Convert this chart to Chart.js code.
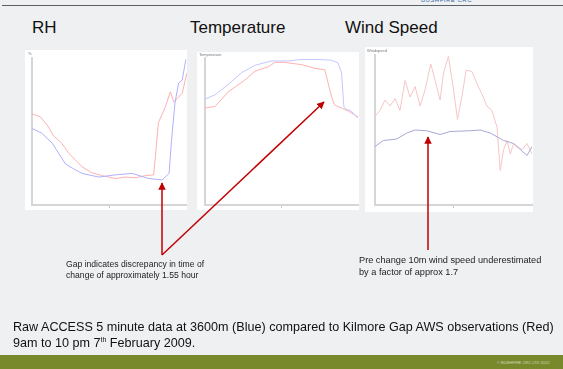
<!DOCTYPE html>
<html>
<head>
<meta charset="utf-8">
<script src="https://cdn.jsdelivr.net/npm/chart.js@4/dist/chart.umd.min.js"></script>
<style>
  html, body { margin: 0; padding: 0; }
  body {
    width: 563px; height: 369px; overflow: hidden; position: relative;
    background: #eff0f2; font-family: "Liberation Sans", Arial, sans-serif; color: #111;
  }
  .abs { position: absolute; }
  .title { font-size: 17px; line-height: 20px; white-space: nowrap; }
  .panel { background: #fff; }
  .note { font-size: 8.6px; line-height: 11px; white-space: nowrap; color: #222; }
  .tiny { font-size: 4px; color: #777; white-space: nowrap; }
</style>
</head>
<body>
<div class="abs" style="left:2px;top:5px;width:561px;height:1px;background:#5a5f66"></div>
<div class="abs" style="left:421px;top:-3px;font-size:6px;color:#3b6ea8;letter-spacing:0.5px">BUSHFIRE CRC</div>

<div class="abs title" style="left:32px;top:18px">RH</div>
<div class="abs title" style="left:190px;top:18px">Temperature</div>
<div class="abs title" style="left:345px;top:18px">Wind Speed</div>

<div class="abs panel" style="left:25px;top:50px;width:162px;height:160px"><canvas id="rhChart"></canvas></div>
<div class="abs panel" style="left:197px;top:52px;width:162px;height:158px"><canvas id="tempChart"></canvas></div>
<div class="abs panel" style="left:365px;top:47px;width:168px;height:165px"><canvas id="windChart"></canvas></div>

<div class="abs tiny" style="left:28px;top:51px">%</div>
<div class="abs tiny" style="left:199px;top:52px">Temperature</div>
<div class="abs tiny" style="left:367px;top:48px">Windspeed</div>

<svg class="abs" style="left:0;top:0" width="563" height="369">
  <defs>
    <marker id="head" viewBox="0 0 10 10" refX="9" refY="5" markerWidth="5" markerHeight="5" orient="auto">
      <path d="M0,0 L10,5 L0,10 z" fill="#c00000"/>
    </marker>
  </defs>
  <line x1="162" y1="255" x2="162" y2="183" stroke="#c00000" stroke-width="1.5" marker-end="url(#head)"/>
  <line x1="162" y1="255" x2="324" y2="102" stroke="#c00000" stroke-width="1.5" marker-end="url(#head)"/>
  <line x1="428" y1="250" x2="428" y2="137" stroke="#c00000" stroke-width="1.5" marker-end="url(#head)"/>
</svg>

<div class="abs note" style="left:66px;top:259px">Gap indicates discrepancy in time of<br>change of approximately 1.55 hour</div>
<div class="abs note" style="left:359px;top:254px;font-size:9.2px;line-height:12px">Pre change 10m wind speed underestimated<br>by a factor of approx 1.7</div>

<div class="abs" style="left:13px;top:319px;font-size:12.6px;line-height:16px;white-space:nowrap">
  Raw ACCESS 5 minute data at 3600m (Blue) compared to Kilmore Gap AWS observations (Red)<br>
  9am to 10 pm 7<sup style="font-size:7px;line-height:0">th</sup> February 2009.
</div>

<div class="abs" style="left:0;top:355px;width:563px;height:14px;background:#77892b"></div>
<div class="abs" style="left:497px;top:360px;font-size:4px;color:#d8dcc0;white-space:nowrap">© BUSHFIRE CRC LTD 2012</div>

<script>
// hours of the day (9am - 10pm) and values (axis scaled 0-100)
const rhBlueHours = [9.0, 9.8, 10.7, 11.8, 12.4, 13.2, 14.6, 16.0, 17.4, 18.8, 19.9, 20.5, 20.7, 21.0, 21.3, 21.6, 21.9];
const rhBlueValues = [52, 49, 42, 28, 25, 21.5, 19, 20.5, 21.5, 18, 17, 21.5, 44, 70, 83, 85, 99];
const rhRedHours = [9.0, 9.7, 10.4, 10.8, 11.5, 12.1, 12.6, 13.2, 14.0, 14.9, 16.0, 16.8, 17.7, 18.5, 19.2, 19.35, 19.6, 20.2, 20.6, 20.9, 21.6, 22.0];
const rhRedValues = [62, 60, 53, 47, 42, 35, 31, 26, 22, 20, 18, 19, 18.5, 20, 20.5, 33, 56, 67, 77, 70, 76, 90];

const tempBlueHours = [9, 9.85, 10.98, 12.11, 13.24, 14.65, 16.07, 17.2, 18.6, 19.74, 20.3, 20.6, 20.8, 21.0, 21.4, 22];
const tempBlueValues = [72, 75, 82, 90, 95, 98, 98, 99, 99, 98.5, 96.6, 90, 67, 65, 64, 59];
const tempRedHours = [9, 9.85, 10.98, 12.39, 13.24, 14.37, 14.93, 15.78, 17.2, 18.33, 19.17, 19.46, 19.74, 20.0, 20.6, 21.15, 22];
const tempRedValues = [66, 67, 77, 85, 91, 94, 97, 97, 95.5, 93, 92, 83, 74, 68, 66, 64, 60];

const windBlueHours = [9, 9.69, 10.8, 11.63, 12.32, 13.29, 14.39, 15.22, 16.88, 17.71, 18.54, 19.1, 19.65, 20.48, 21.03, 21.59, 22];
const windBlueValues = [39, 43, 44, 48, 50, 49.5, 47, 49, 49.5, 50, 48, 45.5, 43, 41, 37, 33, 39];
const windRedHours = [9, 9.41, 9.83, 10.24, 10.66, 11.07, 11.49, 11.9, 12.32, 12.73, 13.15, 13.62, 13.98, 14.39, 14.67, 15.08, 15.5, 15.83, 16.19, 16.55, 17.02, 17.44, 17.85, 18.27, 18.68, 19.1, 19.37, 19.65, 19.93, 20.2, 20.48, 20.76, 21.17, 21.59, 22];
const windRedValues = [59, 63, 70, 66, 71, 63, 83, 72, 79, 66, 77, 94, 83, 70, 88, 99, 77, 57, 72, 90, 89, 81, 74, 66, 63, 52, 23, 37, 43, 34, 41, 39, 37, 41, 34];

const blueColor = "#aeb0ff";
const redColor = "#ffb0b0";

function toPoints(hours, values) {
  return hours.map((h, i) => ({ x: h, y: values[i] }));
}

function makeChart(id, blue, red, pad, redLine, blueLine) {
  const ctx = document.getElementById(id).getContext("2d");
  return new Chart(ctx, {
    type: "line",
    data: {
      datasets: [
        { data: blue, borderColor: blueLine || blueColor, borderWidth: 1, pointRadius: 0, tension: 0 },
        { data: red, borderColor: redLine || redColor, borderWidth: 1, pointRadius: 0, tension: 0 },
      ],
    },
    options: {
      responsive: true,
      maintainAspectRatio: false,
      animation: false,
      layout: { padding: pad },
      plugins: { legend: { display: false }, tooltip: { enabled: false } },
      scales: {
        x: {
          type: "linear",
          min: 9,
          max: 22,
          ticks: { display: false, stepSize: 6.5 },
          grid: {
            drawOnChartArea: false,
            tickLength: 3,
            color: (c) => (c.index === 1 ? "#c8c8c8" : "rgba(0,0,0,0)"),
          },
          border: { color: "#d6d6d6", width: 2 },
        },
        y: {
          min: 0,
          max: 100,
          ticks: { display: false },
          grid: { display: false, drawTicks: false },
          border: { color: "#d6d6d6", width: 2 },
        },
      },
    },
  });
}

makeChart("rhChart", toPoints(rhBlueHours, rhBlueValues), toPoints(rhRedHours, rhRedValues),
  { left: 7, top: 8, right: 0, bottom: 2 });
makeChart("tempChart", toPoints(tempBlueHours, tempBlueValues), toPoints(tempRedHours, tempRedValues),
  { left: 8, top: 6, right: 1, bottom: 2 }, null, "#c4c6ff");
makeChart("windChart", toPoints(windBlueHours, windBlueValues), toPoints(windRedHours, windRedValues),
  { left: 10, top: 8, right: 1, bottom: 4 }, "#f6c6c6", "#a6a8d6");
</script>
</body>
</html>
